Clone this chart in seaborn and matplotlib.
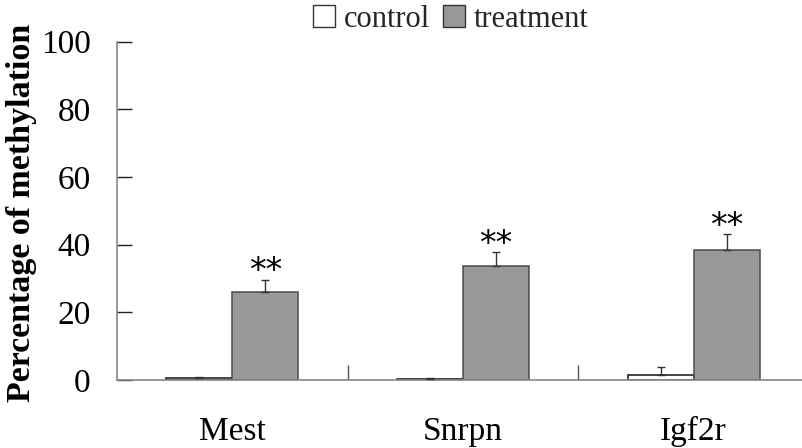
import matplotlib
matplotlib.use("Agg")
import matplotlib.pyplot as plt
import seaborn as sns
import pandas as pd
import numpy as np
from matplotlib.ticker import FixedLocator
from matplotlib.patches import Patch

genes = ["Mest", "Snrpn", "Igf2r"]
groups = ["control", "treatment"]
control_vals = [0.6, 0.3, 1.5]
control_err = [0.2, 0.4, 2.4]
treatment_vals = [26.1, 33.8, 38.5]
treatment_err = [3.5, 3.9, 4.5]
significance = ["**", "**", "**"]
yticks = [0, 20, 40, 60, 80, 100]

df = pd.DataFrame({
    "gene": genes * 2,
    "group": [groups[0]] * 3 + [groups[1]] * 3,
    "value": control_vals + treatment_vals,
    "err": control_err + treatment_err,
})

sns.set_theme(style="white")
plt.rcParams["font.family"] = ["Liberation Serif", "DejaVu Serif"]

fig = plt.figure(figsize=(8.02, 4.48), dpi=100)
ax = fig.add_axes([0.146, 0.152, 0.854, 0.755])

palette = {"control": "white", "treatment": "#999999"}
sns.barplot(data=df, x="gene", y="value", hue="group", order=genes,
            hue_order=groups, palette=palette, width=0.572, errorbar=None,
            legend=False, ax=ax, saturation=1)

bar_containers = list(ax.containers)
edgecols = ["#111111", "#4d4d4d"]
for ci, cont in enumerate(bar_containers):
    errs = control_err if ci == 0 else treatment_err
    for bi, bar in enumerate(cont):
        bar.set_edgecolor(edgecols[ci])
        bar.set_linewidth(1.1)
        xc = bar.get_x() + bar.get_width() / 2
        top = bar.get_height()
        e = errs[bi]
        ax.errorbar(xc, top, yerr=[[0], [e]], fmt="none", ecolor="#333333",
                    elinewidth=1.0, capsize=3, capthick=1.0, zorder=3)
        if ci == 1:
            ax.text(xc, top + e - 2.4, significance[bi],
                    ha="center", va="bottom", fontsize=24, color="black",
                    family="DejaVu Sans")

ax.set_ylim(0, 100)
ax.set_xlim(-0.5, 2.47)
ax.set_yticks(yticks)
ax.set_yticklabels([str(t) for t in yticks])
ax.tick_params(axis="y", direction="in", length=11, width=1, color="#222222",
               pad=19, labelsize=24, left=True, labelcolor="black")
ax.tick_params(axis="x", which="major", length=0, pad=26, labelsize=24,
               labelcolor="black")
ax.xaxis.set_minor_locator(FixedLocator([0.5, 1.5]))
ax.tick_params(axis="x", which="minor", direction="in", length=11, width=1,
               color="#555555", bottom=True)
ax.set_xlabel("")
ax.set_ylabel("Percentage of methylation", fontsize=24.5, fontweight="bold",
              color="black")
ax.yaxis.set_label_coords(-0.117, 0.495)

for s in ["top", "right"]:
    ax.spines[s].set_visible(False)
for s in ["left", "bottom"]:
    ax.spines[s].set_color("#888888")
    ax.spines[s].set_linewidth(1.2)

handles = [Patch(facecolor=palette[g], edgecolor="#333333", linewidth=1.0)
           for g in groups]
fig.legend(handles, groups, loc="center", bbox_to_anchor=(0.562, 0.957),
           ncol=2, frameon=False, fontsize=22, handlelength=0.72,
           handleheight=0.72, handletextpad=0.3, columnspacing=0.4,
           borderpad=0)

fig.savefig("out.png", dpi=100)
